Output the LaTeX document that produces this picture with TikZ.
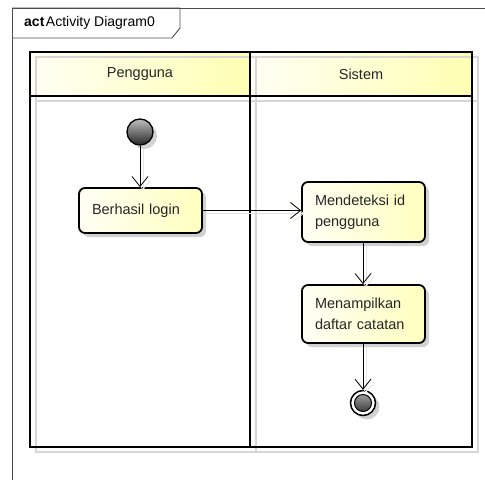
\documentclass[tikz,border=0pt]{standalone}
\usepackage{fontspec}
\setmainfont{Liberation Sans}
\usetikzlibrary{arrows.meta,shadows}

\begin{document}
\begin{tikzpicture}[x=1pt,y=-1pt,
  frameline/.style={draw=black!70, line width=0.9pt},
  lane/.style={draw=black, line width=2pt},
  laneshadow/.style={draw=black!16, line width=2pt},
  hdr/.style={left color=yellow!4, right color=yellow!30},
  lanetitle/.style={font=\fontsize{14.5}{17}\selectfont, text=black!85},
  action/.style={draw=black, line width=1.8pt, rounded corners=6pt,
    left color=yellow!4, right color=yellow!25,
    font=\fontsize{14.5}{21}\selectfont, text=black!85, align=left,
    text width=97pt, inner xsep=13pt, inner ysep=4pt, minimum width=123pt,
    general shadow={fill=black!18, shadow xshift=4pt, shadow yshift=-4pt}},
  initnode/.style={circle, draw=black, line width=1.3pt, minimum size=26pt, inner sep=0pt,
    top color=black!25, bottom color=black!85,
    general shadow={fill=black!18, shadow xshift=4pt, shadow yshift=-4pt}},
  finalnode/.style={circle, draw=black, line width=1.5pt, minimum size=25pt, inner sep=0pt,
    fill=white,
    general shadow={fill=black!18, shadow xshift=4pt, shadow yshift=-4pt},
    path picture={
      \shade[top color=black!30, bottom color=black!85]
        (path picture bounding box.center) circle (8.5pt);
      \draw[line width=1pt] (path picture bounding box.center) circle (8.5pt);}},
  flow/.style={draw=black, line width=0.8pt,
    -{Straight Barb[length=10pt,width=16pt,line width=0.8pt]}},
  flowshadow/.style={draw=black!10, line width=0.8pt,
    -{Straight Barb[length=10pt,width=16pt,line width=0.8pt]},
    transform canvas={shift={(3pt,-3pt)}}},
]
\useasboundingbox (0,0) rectangle (485,480);

% diagram frame and its name tab
\draw[frameline] (12,480) -- (12,8) -- (485,8);
\draw[frameline] (12,8) -- (180,8) -- (180,28) -- (172,38) -- (12,38);
\node[anchor=west, font=\fontsize{14}{16}\selectfont, inner sep=0pt] (title) at (24,23)
  {\textbf{act}\hspace{1.5pt}Activity Diagram0};

% swimlanes: header fills, shadows, outlines
\fill[hdr] (30,52) rectangle (250,96);
\fill[hdr] (250,52) rectangle (472,96);
\draw[laneshadow] (36,57) rectangle (478,452);
\draw[laneshadow] (36,101) -- (478,101);
\draw[laneshadow] (256,57) -- (256,452);
\draw[lane] (30,52) rectangle (472,447);
\draw[lane] (30,96) -- (472,96);
\draw[lane] (250,52) -- (250,447);
\node[lanetitle] (lane1) at (140,74) {Pengguna};
\node[lanetitle] (lane2) at (361,74) {Sistem};

% activity nodes
\node[initnode] (start) at (140,132) {};
\node[action, minimum height=45pt] (login) at (140.5,210.5) {Berhasil login};
\node[action, minimum height=60pt] (detect) at (363.5,212) {Mendeteksi id\\pengguna};
\node[action, minimum height=58pt] (show) at (363.5,314) {Menampilkan\\daftar catatan};
\node[finalnode] (end) at (363,403) {};

% control flows
\draw[flowshadow] (start) -- (start |- login.north);
\draw[flowshadow] (login.east) -- (detect.west |- login.east);
\draw[flowshadow] (detect.south -| end) -- (show.north -| end);
\draw[flowshadow] (show.south -| end) -- (end);
\draw[flow] (start) -- (start |- login.north);
\draw[flow] (login.east) -- (detect.west |- login.east);
\draw[flow] (detect.south -| end) -- (show.north -| end);
\draw[flow] (show.south -| end) -- (end);
\end{tikzpicture}
\end{document}
